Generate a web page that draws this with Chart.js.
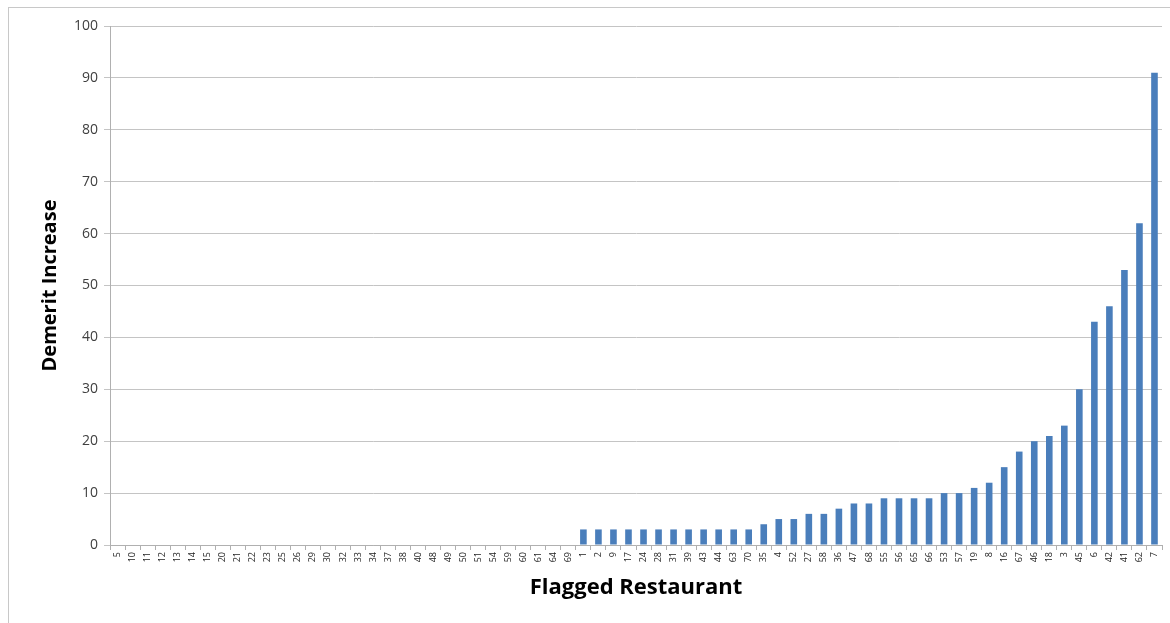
<!DOCTYPE html>
<html>
<head>
<meta charset="utf-8">
<script src="https://cdn.jsdelivr.net/npm/chart.js@4.4.0/dist/chart.umd.min.js"></script>
<style>
  html, body { margin: 0; padding: 0; background: #fff; }
  #wrap { position: relative; width: 1170px; height: 623px; }
  #frame { position: absolute; left: 8px; top: 7px; right: -2px; bottom: -2px;
           border-top: 1px solid #c8c8c8; border-left: 1px solid #c8c8c8; }
  canvas { position: absolute; left: 0; top: 0; }
</style>
</head>
<body>
<div id="wrap">
  <div id="frame"></div>
  <canvas id="demeritChart" width="1170" height="623"></canvas>
</div>
<script>
// Restaurant ids, sorted by demerit increase
const restaurants = [
  "5","10","11","12","13","14","15","20","21","22","23","25","26","29","30","32",
  "33","34","37","38","40","48","49","50","51","54","59","60","61","64","69",
  "1","2","9","17","24","28","31","39","43","44","63","70",
  "35","4","52","27","58","36","47","68","55","56","65","66","53","57","19","8",
  "16","67","46","18","3","45","6","42","41","62","7"
];

const demeritIncrease = [
  0,0,0,0,0,0,0,0,0,0,0,0,0,0,0,0,
  0,0,0,0,0,0,0,0,0,0,0,0,0,0,0,
  3,3,3,3,3,3,3,3,3,3,3,3,
  4,5,5,6,6,7,8,8,9,9,9,9,10,10,11,12,
  15,18,20,21,23,30,43,46,53,62,91
];

const yTicksMax = 100;
const yTickStep = 10;

const fontFamily = "'Open Sans', 'DejaVu Sans', sans-serif";

new Chart(document.getElementById('demeritChart').getContext('2d'), {
  type: 'bar',
  data: {
    labels: restaurants,
    datasets: [{
      label: 'Demerit Increase',
      data: demeritIncrease,
      backgroundColor: '#4a7ebb',
      borderWidth: 0,
      barPercentage: 0.44,
      categoryPercentage: 1.0
    }]
  },
  options: {
    responsive: false,
    animation: false,
    layout: { padding: { top: 26, right: 8, bottom: 0, left: 0 } },
    plugins: {
      legend: { display: false },
      tooltip: { enabled: false }
    },
    scales: {
      x: {
        offset: true,
        grid: {
          offset: true,
          drawOnChartArea: false,
          drawTicks: true,
          tickLength: 5,
          color: '#b0b0b0'
        },
        border: { color: '#b0b0b0' },
        ticks: {
          autoSkip: false,
          minRotation: 90,
          maxRotation: 90,
          padding: 2,
          color: '#222',
          font: { family: fontFamily, size: 9 }
        },
        title: {
          display: true,
          text: 'Flagged Restaurant',
          color: '#000',
          font: { family: fontFamily, size: 22, weight: 'bold' },
          padding: { top: 0, bottom: 22 }
        },
        afterFit: scale => { scale.height = 78; }
      },
      y: {
        min: 0,
        max: yTicksMax,
        grid: {
          color: '#c4c4c4',
          tickLength: 6
        },
        border: { color: '#b0b0b0' },
        ticks: {
          stepSize: yTickStep,
          padding: 6,
          color: '#404040',
          font: { family: fontFamily, size: 14 }
        },
        title: {
          display: true,
          text: 'Demerit Increase',
          color: '#000',
          font: { family: fontFamily, size: 20, weight: 'bold' },
          padding: { top: 38, bottom: 0 }
        },
        afterFit: scale => { scale.width = 110; }
      }
    }
  }
});
</script>
</body>
</html>
